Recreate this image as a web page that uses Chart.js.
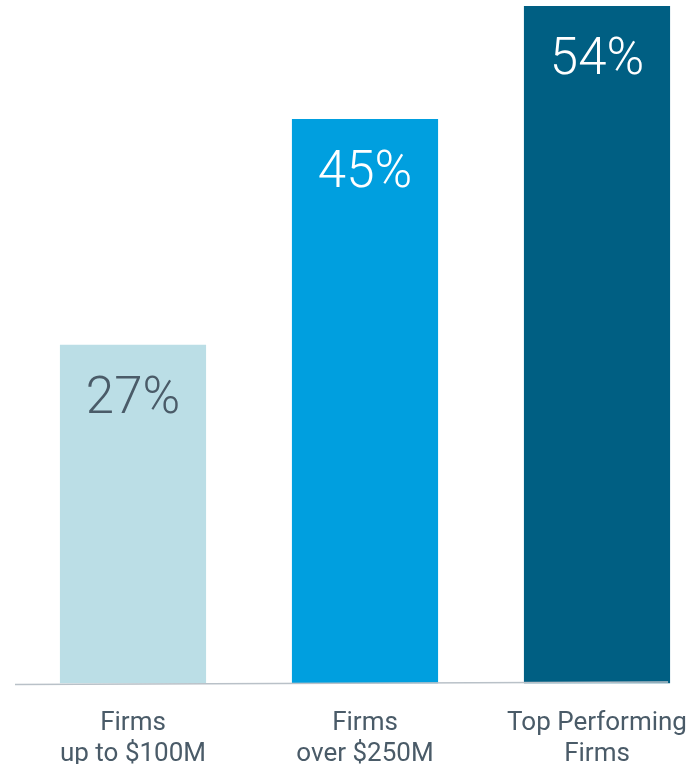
<!DOCTYPE html>
<html>
<head>
<meta charset="utf-8">
<script src="https://cdn.jsdelivr.net/npm/chart.js@4/dist/chart.umd.min.js"></script>
<style>
  html, body { margin: 0; padding: 0; background: #fff; overflow: hidden; }
  #wrap { width: 720px; height: 786px; }
</style>
</head>
<body>
<div id="wrap"><canvas id="mycanvas" width="720" height="786"></canvas></div>
<script>
var categories = [['Firms', 'up to $100M'], ['Firms', 'over $250M'], ['Top Performing', 'Firms']];
var shares = [27, 45, 54];
var barColors = ['#bbdee6', '#009fdf', '#005f83'];
var valueColors = ['#4a5b68', '#ffffff', '#ffffff'];

// percentage text near the top of each bar
var valueLabels = {
    id: 'valueLabels',
    afterDatasetsDraw: function (chart) {
        var ctx = chart.ctx;
        var meta = chart.getDatasetMeta(0);
        ctx.save();
        ctx.font = '300 51px Roboto';
        ctx.textAlign = 'center';
        ctx.textBaseline = 'middle';
        meta.data.forEach(function (bar, i) {
            ctx.fillStyle = valueColors[i];
            ctx.fillText(shares[i] + '%', bar.x, bar.y + 55);
        });
        ctx.restore();
    }
};

// thin baseline running from the left edge to the last bar
var baseLine = {
    id: 'baseLine',
    afterDatasetsDraw: function (chart) {
        var ctx = chart.ctx;
        var meta = chart.getDatasetMeta(0);
        var last = meta.data[meta.data.length - 1];
        var y = chart.scales.y.getPixelForValue(0);
        ctx.save();
        ctx.strokeStyle = '#b9c1c8';
        ctx.lineWidth = 1.5;
        ctx.beginPath();
        ctx.moveTo(chart.chartArea.left - 2, y + 1);
        ctx.lineTo(last.x + last.width / 2 - 2, y - 1.5);
        ctx.stroke();
        ctx.restore();
    }
};

var ctx = document.getElementById('mycanvas');
var barGraph = new Chart(ctx, {
    type: 'bar',
    data: {
        labels: categories,
        datasets: [{
            data: shares,
            backgroundColor: barColors,
            borderWidth: 0,
            barPercentage: 0.63,
            categoryPercentage: 1
        }]
    },
    options: {
        responsive: false,
        animation: false,
        layout: { padding: { left: 17, right: 7, top: 6, bottom: 0 } },
        plugins: {
            legend: { display: false },
            tooltip: { enabled: false }
        },
        scales: {
            x: {
                grid: { display: false },
                border: { display: false },
                ticks: {
                    color: '#4a5b68',
                    padding: 16,
                    font: { family: 'Roboto', size: 26, weight: 400, lineHeight: 1.2 }
                }
            },
            y: {
                display: false,
                min: 0,
                max: 54
            }
        }
    },
    plugins: [valueLabels, baseLine]
});
</script>
</body>
</html>
